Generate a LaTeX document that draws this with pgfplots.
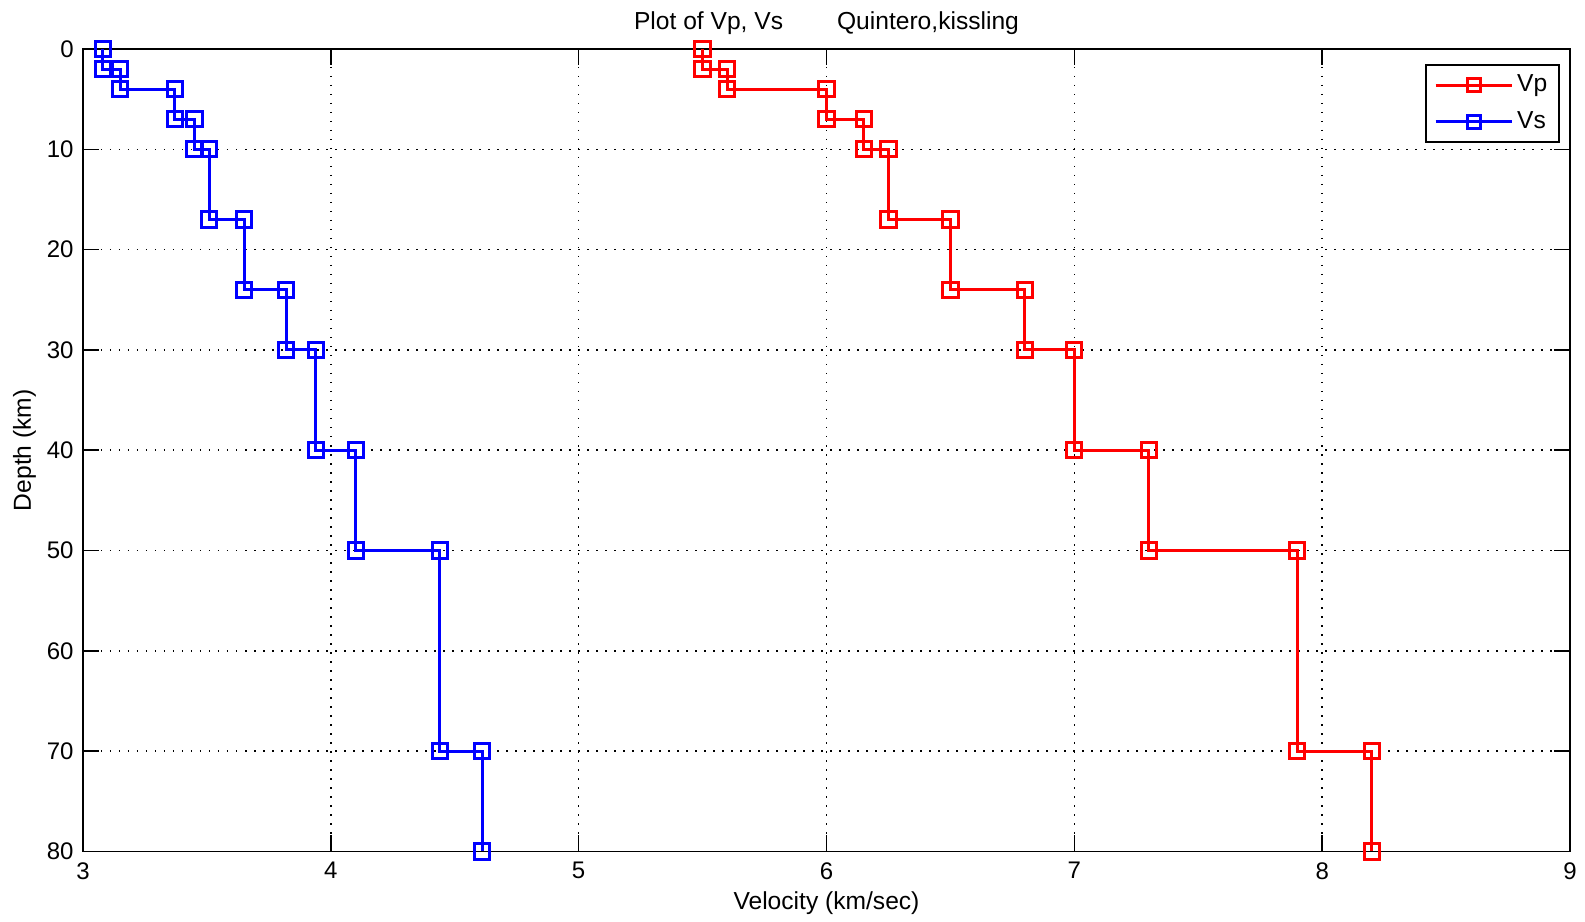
\documentclass[border=0pt]{standalone}
\usepackage{fontspec}
\setmainfont{Liberation Sans}
\usepackage{pgfplots}
\pgfplotsset{compat=1.18}

% Layered velocity model (Quintero & Kissling): P and S velocity versus depth
\pgfplotstableread{
v d
5.50 0
5.50 2
5.60 2
5.60 4
6.00 4
6.00 7
6.15 7
6.15 10
6.25 10
6.25 17
6.50 17
6.50 24
6.80 24
6.80 30
7.00 30
7.00 40
7.30 40
7.30 50
7.90 50
7.90 70
8.20 70
8.20 80
}\vpdata
\pgfplotstableread{
v d
3.08 0
3.08 2
3.15 2
3.15 4
3.37 4
3.37 7
3.45 7
3.45 10
3.51 10
3.51 17
3.65 17
3.65 24
3.82 24
3.82 30
3.94 30
3.94 40
4.10 40
4.10 50
4.44 50
4.44 70
4.61 70
4.61 80
}\vsdata

\begin{document}
\begin{tikzpicture}
\begin{axis}[
  scale only axis,
  width=743.5pt, height=401.25pt,
  xmin=3, xmax=9, ymin=0, ymax=80,
  y dir=reverse,
  xtick={3,4,...,9}, ytick={0,10,...,80},
  grid=major,
  major grid style={black, line width=0.75pt, dash pattern=on 0.75pt off 3.75pt},
  tick align=inside,
  major tick length=8pt,
  tick style={black, line width=0.8pt},
  axis line style={black, line width=0.9pt},
  /pgf/number format/assume math mode=true,
  ticklabel style={font=\fontsize{12}{14}\selectfont, inner sep=0pt},
  xticklabel style={anchor=north, yshift=-5.25pt},
  yticklabel style={anchor=east, xshift=-4.5pt},
  title={Plot of Vp, Vs\hspace{27pt}Quintero,kissling},
  % the default title style already carries yshift=6pt; cancel it
  title style={font=\fontsize{12.3}{14}\selectfont, at={(axis description cs:0.5,1.0237)}, anchor=base, yshift=-6pt, inner sep=0pt},
  xlabel={Velocity (km/sec)},
  xlabel style={font=\fontsize{12.3}{14}\selectfont, at={(axis description cs:0.5,-0.0717)}, anchor=base, inner sep=0pt},
  ylabel={Depth (km)},
  ylabel style={font=\fontsize{12.3}{14}\selectfont, at={(axis description cs:-0.035,0.5)}, anchor=base, inner sep=0pt},
  legend style={at={(axis description cs:0.9933,0.981)}, anchor=north east,
    draw=black, line width=0.8pt, fill=white,
    font=\fontsize{12.3}{14}\selectfont,
    inner xsep=4pt, inner ysep=3pt, row sep=4.5pt},
  legend cell align=left,
  legend image code/.code={
    \draw[mark repeat=2, mark phase=2, mark size=3.2pt] plot coordinates {(0pt,0pt) (19pt,0pt) (38pt,0pt)};
  },
]
\addplot[red, line width=1.5pt, mark=square, mark size=3.8pt] table[x=v, y=d] {\vpdata};
\addlegendentry{Vp}
\addplot[blue, line width=1.5pt, mark=square, mark size=3.8pt] table[x=v, y=d] {\vsdata};
\addlegendentry{Vs}
\end{axis}
\pgfresetboundingbox
\path[use as bounding box] ([xshift=-41.5pt, yshift=-35.25pt]current axis.south west) rectangle ([xshift=7.5pt, yshift=24.5pt]current axis.north east);
\end{tikzpicture}
\end{document}
